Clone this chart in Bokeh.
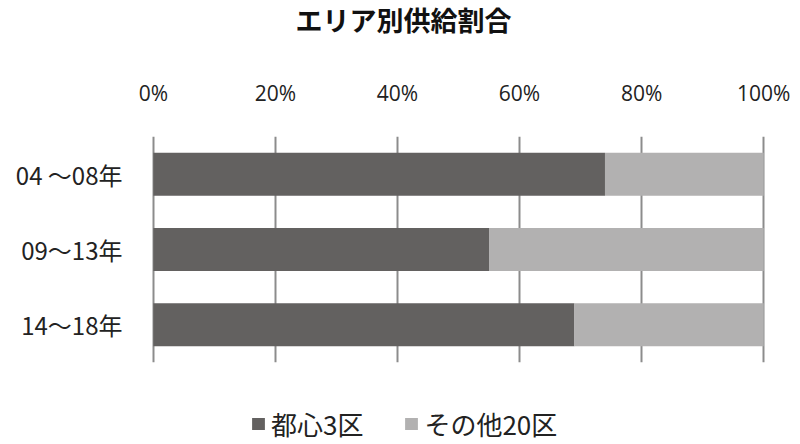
from bokeh.plotting import figure
from bokeh.layouts import column
from bokeh.models import (FactorRange, Range1d, Legend, LegendItem, NumeralTickFormatter,
                          FixedTicker, Label)
from bokeh.embed import file_html
from bokeh.resources import INLINE

categories = ["04 ～08年", "09～13年", "14～18年"]
toshin3 = [0.74, 0.55, 0.69]
other20 = [0.26, 0.45, 0.31]
x_ticks = [0, 0.2, 0.4, 0.6, 0.8, 1.0]
series_names = ["都心3区", "その他20区"]
colors = ["#636160", "#b2b1b1"]
title_text = "エリア別供給割合"

LATIN = "Open Sans"
CJK = "Noto Sans CJK JP"
W = 800
FRAME_L, FRAME_R = 151, 765

data = {"cat": categories, "toshin3": toshin3, "other20": other20}


def blank(fig):
    fig.outline_line_color = None
    fig.axis.visible = False
    fig.grid.visible = False


# --- title strip (frame aligned with the chart's frame; x in page pixels) ---
pt = figure(width=W, height=50, output_backend="svg", toolbar_location=None,
            x_range=Range1d(FRAME_L, FRAME_R), y_range=Range1d(0, 50),
            min_border_left=0, min_border_right=0, min_border_top=0, min_border_bottom=0)
blank(pt)
pt.add_layout(Label(x=403, y=31.5, text=title_text, text_align="center", text_baseline="middle",
                    text_font=CJK, text_font_size="27px", text_font_style="bold",
                    text_color="#111111"))

# --- main chart ---
p = figure(width=W, height=332, output_backend="svg", toolbar_location=None,
           y_range=FactorRange(factors=list(reversed(categories)), range_padding=0),
           x_range=Range1d(-0.003, 1.003), x_axis_location="above",
           min_border_left=FRAME_L, min_border_right=W - FRAME_R, min_border_top=86,
           min_border_bottom=20)

r = p.hbar_stack(["toshin3", "other20"], y="cat", height=0.57, color=colors,
                 line_color=None, source=data)

p.outline_line_color = None
p.ygrid.grid_line_color = None
p.xgrid.grid_line_color = "#8c8c8c"
p.xgrid.grid_line_width = 2
p.xgrid.ticker = FixedTicker(ticks=x_ticks)

xa = p.xaxis[0]
xa.ticker = FixedTicker(ticks=x_ticks)
xa.formatter = NumeralTickFormatter(format="0%")
xa.axis_line_color = None
xa.major_tick_line_color = None
xa.minor_tick_line_color = None
xa.major_tick_out = 0
xa.minor_tick_out = 0
xa.major_label_text_font = LATIN
xa.major_label_text_font_size = "21px"
xa.major_label_text_color = "#222222"
xa.major_label_standoff = 30

ya = p.yaxis[0]
ya.axis_line_color = None
ya.major_tick_line_color = None
ya.minor_tick_line_color = None
ya.major_tick_out = 0
ya.minor_tick_out = 0
ya.major_label_text_font = CJK
ya.major_label_text_font_size = "24px"
ya.major_label_text_color = "#222222"
ya.major_label_standoff = 29

# --- legend strip (hidden proxy bars from the same data feed the legend swatches) ---
pl = figure(width=W, height=62, output_backend="svg", toolbar_location=None,
            y_range=FactorRange(factors=list(reversed(categories))), x_range=Range1d(0, 1),
            min_border_left=0, min_border_right=0, min_border_top=0, min_border_bottom=0)
blank(pl)
proxies = pl.hbar_stack(["toshin3", "other20"], y="cat", height=0.57, color=colors,
                        line_color=None, source=data, visible=False)
legend = Legend(items=[LegendItem(label=series_names[i], renderers=[proxies[i]]) for i in range(2)],
                orientation="horizontal", location=(99, 2), click_policy="none",
                label_text_font=CJK, label_text_font_size="26px", label_text_color="#222222",
                glyph_width=16, glyph_height=15, spacing=40, border_line_color=None,
                background_fill_alpha=0, padding=2, margin=0, label_standoff=5)
pl.add_layout(legend, "center")

layout = column(pt, p, pl, spacing=0)
open("out.html", "w").write(file_html(layout, INLINE))
